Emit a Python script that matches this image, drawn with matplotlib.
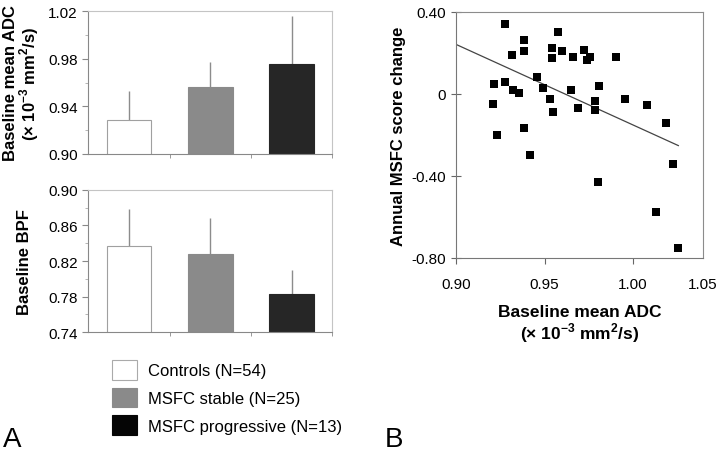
import numpy as np
import matplotlib
matplotlib.use("Agg")
import matplotlib.pyplot as plt
from matplotlib.patches import Patch
from matplotlib.ticker import MultipleLocator, FixedLocator

plt.rcParams['font.family'] = ['Liberation Sans', 'DejaVu Sans']
plt.rcParams['mathtext.fontset'] = 'custom'
plt.rcParams['mathtext.rm'] = 'Liberation Sans'
plt.rcParams['mathtext.bf'] = 'Liberation Sans:bold'

# ---------------- data ----------------
groups = ['Controls (N=54)', 'MSFC stable (N=25)', 'MSFC progressive (N=13)']
group_colors = ['white', '#8a8a8a', '#262626']

adc_mean = [0.928, 0.956, 0.976]
adc_err = [0.025, 0.021, 0.040]
bpf_mean = [0.837, 0.828, 0.783]
bpf_err = [0.041, 0.040, 0.027]

adc_x = [0.9277, 0.9316, 0.9386, 0.9385, 0.9574, 0.9545, 0.9602, 0.9545, 0.9661,
         0.9725, 0.9757, 0.9742, 0.9905, 0.9460, 0.9212, 0.9277, 0.9322, 0.9356,
         0.9491, 0.9812, 0.9652, 0.9208, 0.9530, 0.9549, 0.9691, 0.9784, 0.9788,
         0.9958, 1.0083, 1.0191, 0.9229, 0.9381, 0.9419, 0.9801, 1.0231, 1.0135,
         1.0260]
msfc_change = [0.340, 0.189, 0.261, 0.210, 0.300, 0.222, 0.210, 0.173, 0.181,
               0.215, 0.181, 0.165, 0.181, 0.084, 0.049, 0.057, 0.016, 0.003,
               0.028, 0.036, 0.019, -0.052, -0.026, -0.087, -0.071, -0.034, -0.079,
               -0.026, -0.055, -0.142, -0.199, -0.167, -0.296, -0.432, -0.341, -0.574,
               -0.752]

scatter_xticks = [0.90, 0.95, 1.00, 1.04]
scatter_xticklabels = ['0.90', '0.95', '1.00', '1.05']
scatter_yticks = [-0.80, -0.40, 0, 0.40]
scatter_yticklabels = ['-0.80', '-0.40', '0', '0.40']

adc_label = 'Baseline mean ADC\n' + r'(× 10$^{\mathbf{-3}}$ mm$^{\mathbf{2}}$/s)'

fig = plt.figure(figsize=(7.2, 4.52), dpi=100)

ax1 = fig.add_axes([0.1226, 0.6577, 0.339, 0.315])
ax2 = fig.add_axes([0.1226, 0.2626, 0.339, 0.3155])
ax3 = fig.add_axes([0.634, 0.427, 0.3424, 0.545])


def bar_panel(ax, means, errs, ylim, step):
    pos = np.arange(len(means))
    ax.errorbar(pos, means, yerr=[np.zeros(len(errs)), errs], fmt='none',
                ecolor='#8c8c8c', elinewidth=1, capsize=0, zorder=1)
    ax.bar(pos, means, width=0.55, color=group_colors,
           edgecolor=['#a0a0a0', '#8a8a8a', '#262626'], linewidth=0.8, zorder=2)
    ax.set_xlim(-0.5, 2.5)
    ax.set_ylim(*ylim)
    ticks = np.arange(ylim[0], ylim[1] + 1e-9, step)
    ax.set_yticks(ticks)
    ax.set_yticklabels(['%.2f' % v for v in ticks])
    ax.yaxis.set_minor_locator(MultipleLocator(step / 2))
    ax.set_xticks([])
    ax.xaxis.set_minor_locator(FixedLocator([0.5, 1.5, 2.5]))
    ax.tick_params(axis='x', which='minor', length=3, color='#888888')
    ax.tick_params(axis='y', which='major', length=4, color='#888888', labelsize=11)
    ax.tick_params(axis='y', which='minor', length=2, color='#aaaaaa')
    for s in ['left', 'bottom']:
        ax.spines[s].set_color('#888888')
    for s in ['top', 'right']:
        ax.spines[s].set_color('#c4c4c4')


bar_panel(ax1, adc_mean, adc_err, (0.90, 1.02), 0.04)
ax1.set_ylabel(adc_label, fontsize=12, fontweight='bold', linespacing=1.0, labelpad=5)
bar_panel(ax2, bpf_mean, bpf_err, (0.74, 0.90), 0.04)
ax2.set_ylabel('Baseline BPF', fontsize=12, fontweight='bold', labelpad=12)

# scatter
ax3.scatter(adc_x, msfc_change, marker='s', s=30, color='black', linewidths=0, zorder=3)
coef = np.polyfit(adc_x, msfc_change, 1)
fit_x = np.array([0.90, max(adc_x)])
ax3.plot(fit_x, np.polyval(coef, fit_x), color='#444444', lw=0.9, zorder=2)
ax3.set_xlim(0.90, 1.04)
ax3.set_ylim(-0.80, 0.40)
ax3.set_xticks(scatter_xticks)
ax3.set_xticklabels(scatter_xticklabels)
ax3.xaxis.get_major_ticks()[-1].tick1line.set_visible(False)
ax3.set_yticks(scatter_yticks)
ax3.set_yticklabels(scatter_yticklabels)
ax3.tick_params(axis='x', length=4, color='#666666', labelsize=11, pad=10)
ax3.tick_params(axis='y', direction='inout', length=7, color='#666666', labelsize=11, pad=4)
for s in ax3.spines.values():
    s.set_color('#8c8c8c')
ax3.spines['left'].set_color('#777777')
ax3.spines['bottom'].set_color('#777777')
ax3.set_xlabel(adc_label, fontsize=12.5, fontweight='bold', linespacing=1.1, labelpad=9)
ax3.set_ylabel('Annual MSFC score change', fontsize=12, fontweight='bold', labelpad=4)

# legend
handles = [Patch(facecolor=c, edgecolor=e, linewidth=0.8)
           for c, e in zip(['white', '#8a8a8a', '#050505'], ['#aaaaaa', '#8a8a8a', '#050505'])]
fig.legend(handles, groups, loc='upper left', bbox_to_anchor=(111.7 / 720, 1 - 361 / 452),
           frameon=False, fontsize=12, handlelength=1.5, handleheight=1.44,
           labelspacing=0.48, handletextpad=0.7, borderpad=0, borderaxespad=0)

fig.text(3 / 720, 1 - 447 / 452, 'A', fontsize=20, ha='left', va='baseline')
fig.text(385 / 720, 1 - 447 / 452, 'B', fontsize=20, ha='left', va='baseline')

fig.savefig('out.png', dpi=100)
